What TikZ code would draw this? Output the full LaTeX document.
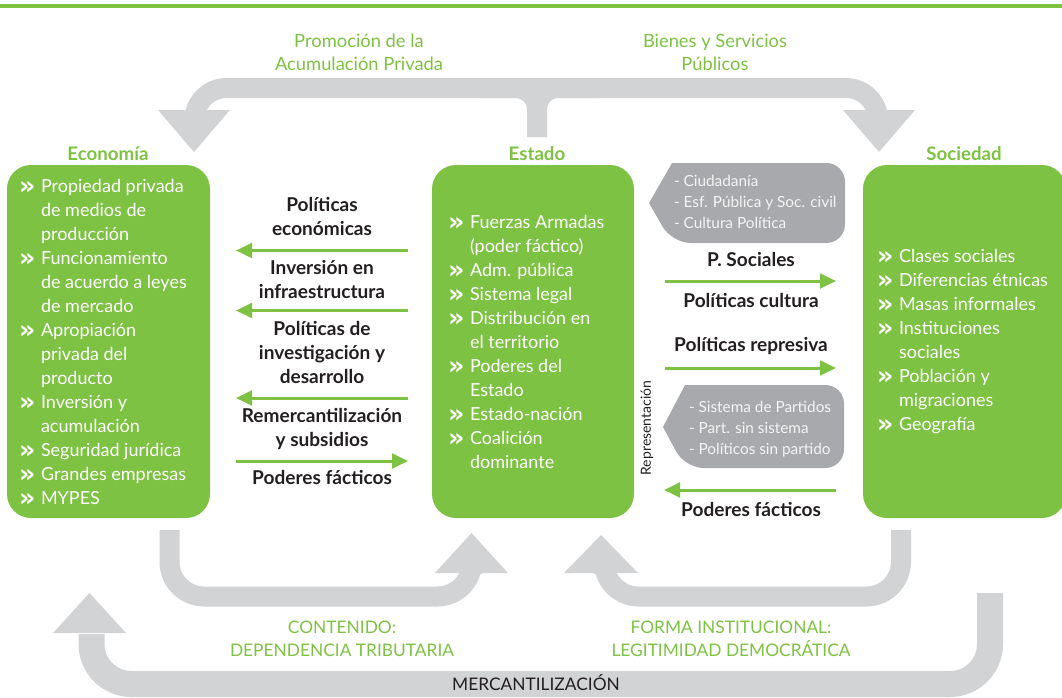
\documentclass[tikz,border=0pt]{standalone}
\usepackage{fontspec}
\setmainfont{Lato}
\newfontfamily\bulfont{DejaVu Sans}
\usetikzlibrary{arrows.meta}
\definecolor{grn}{HTML}{7DC242}
\definecolor{arrgray}{HTML}{D1D3D4}
\definecolor{callgray}{HTML}{A7A9AC}
\definecolor{ink}{HTML}{231F20}
\definecolor{calltext}{HTML}{F4F4F4}
\newcommand\bul{\makebox[16.5pt][l]{\raisebox{-1.6pt}{\bulfont\bfseries\fontsize{19}{18}\selectfont »}}}
\newcommand\ind{\hspace*{16.5pt}}
\newcommand\myBody{\fontsize{13.5}{18}\selectfont}
\newcommand\myLab{\fontsize{14.3}{18}\selectfont\bfseries}
\newcommand\myTitle{\fontsize{14}{16}\selectfont\bfseries}
\newcommand\myTop{\fontsize{13.75}{17.25}\selectfont}
\newcommand\myBot{\fontsize{13}{17.25}\selectfont}
\newcommand\myCall{\fontsize{11.5}{15.4}\selectfont}
\newcommand\myMerc{\fontsize{13}{14}\selectfont}
\newcommand\myRep{\fontsize{10.5}{12}\selectfont}
\begin{document}
\begin{tikzpicture}[x=0.75pt,y=-0.75pt,
  every node/.style={inner sep=0pt,outer sep=0pt},
  box/.style={fill=grn,rounded corners=18pt,minimum height=264.75pt},
  boxtext/.style={anchor=north west,align=left,text=white,font=\myBody},
  title/.style={anchor=base,text=grn,font=\myTitle},
  lab/.style={anchor=north,align=center,text=ink,font=\myLab},
  garrow/.style={draw=grn,line width=2.25pt,-{Triangle[length=12pt,width=11pt]}},
  band/.style={draw=arrgray,line width=15pt},
  bigband/.style={draw=arrgray,line width=19.5pt},
  head/.style={fill=arrgray},
  calltxt/.style={anchor=north west,align=left,text=calltext,font=\myCall},
  toplab/.style={anchor=north,align=center,text=grn,font=\myTop},
  botlab/.style={anchor=north,align=center,text=grn,font=\myBot}]
\useasboundingbox (0,0) rectangle (1062,697);
% top green rule
\fill[grn] (0,3.5) rectangle (1062,8.3);

% ---------- gray flow arrows ----------
% top
\draw[band,rounded corners=24pt] (194.5,112) -- (194.5,88) -- (878,88) -- (878,112);
\draw[band,rounded corners=16pt] (537,137) -- (537,88) -- (480,88);
\draw[band,rounded corners=16pt] (537,137) -- (537,88) -- (594,88);
\fill[head] (158,110) -- (230,110) -- (194,152) -- cycle;
\fill[head] (843,110) -- (915,110) -- (879,152) -- cycle;
% bottom left U
\draw[band,rounded corners=26pt] (169.5,530) -- (169.5,596.5) -- (472,596.5) -- (472,574);
\fill[head] (435,573) -- (508,573) -- (471.5,533) -- cycle;
% bottom right U
\draw[band,rounded corners=26pt] (901,530) -- (901,596.5) -- (604,596.5) -- (604,574);
\fill[head] (564,573) -- (638,573) -- (601,535) -- cycle;
% big bottom
\draw[bigband,rounded corners=30pt] (990,593) -- (990,684) -- (91.5,684) -- (91.5,634);
\fill[head] (53,633) -- (126,633) -- (89.5,593) -- cycle;

% ---------- boxes ----------
\node[box,minimum width=152.25pt] (eco) at (108.5,341.5) {};
\node[box,minimum width=151.5pt] (est) at (533,341.5) {};
\node[box,minimum width=152.25pt] (soc) at (964.5,341.5) {};

\node[title] (ecot) at (108,160) {Economía};
\node[title] (estt) at (537,160) {Estado};
\node[title] (soct) at (964,160) {Sociedad};

\node[boxtext] (ecotx) at (19,175.5) {\strut\bul Propiedad privada\\
\ind de medios de\\
\ind producción\\
\bul Funcionamiento\\
\ind de acuerdo a leyes\\
\ind de mercado\\
\bul Apropiación\\
\ind privada del\\
\ind producto\\
\bul Inversión y\\
\ind acumulación\\
\bul Seguridad jurídica\\
\bul Grandes empresas\\
\bul MYPES};

\node[boxtext] (esttx) at (448,211.5) {\strut\bul Fuerzas Armadas\\
\ind (poder fáctico)\\
\bul Adm. pública\\
\bul Sistema legal\\
\bul Distribución en\\
\ind el territorio\\
\bul Poderes del\\
\ind Estado\\
\bul Estado-nación\\
\bul Coalición\\
\ind dominante};

\node[boxtext] (soctx) at (877,245.5) {\strut\bul Clases sociales\\
\bul Diferencias étnicas\\
\bul Masas informales\\
\bul Instituciones\\
\ind sociales\\
\bul Población y\\
\ind migraciones\\
\bul Geografía};

% ---------- callouts ----------
\path[fill=callgray,rounded corners=14pt] (672,163) -- (845,163) -- (845,243) -- (672,243) [sharp corners] -- (649,203) -- cycle;
\node[calltxt] (c1) at (674,172.6) {\strut- Ciudadanía\\- Esf. Pública y Soc. civil\\- Cultura Política};
\path[fill=callgray,rounded corners=14pt] (685,385) -- (844,385) -- (844,468) -- (685,468) [sharp corners] -- (663,427) -- cycle;
\node[calltxt] (c2) at (689,398.6) {\strut- Sistema de Partidos\\- Part. sin sistema\\- Políticos sin partido};

\node[rotate=90,text=ink,font=\myRep] (rep) at (647,428) {Representación};

% ---------- left labels and arrows ----------
\node[lab] (l1) at (322,194.7) {\strut Políticas\\económicas};
\node[lab] (l2) at (322,257.2) {\strut Inversión en\\infraestructura};
\node[lab] (l3) at (322,318.9) {\strut Políticas de\\investigación y\\desarrollo};
\node[lab] (l4) at (322,405.5) {\strut Remercantilización\\y subsidios};
\node[lab] (l5) at (322,467.5) {\strut Poderes fácticos};
\coordinate (a1s) at (408,250.5); \coordinate (a1e) at (236,250.5);
\coordinate (a2s) at (408,310.5); \coordinate (a2e) at (236,310.5);
\coordinate (a3s) at (408,398);   \coordinate (a3e) at (236,398);
\coordinate (a4s) at (236,461);   \coordinate (a4e) at (408,461);
\draw[garrow] (a1s) -- (a1e);
\draw[garrow] (a2s) -- (a2e);
\draw[garrow] (a3s) -- (a3e);
\draw[garrow] (a4s) -- (a4e);

% ---------- right labels and arrows ----------
\node[lab] (r1) at (751,249.2) {\strut P. Sociales};
\node[lab] (r2) at (751,290.9) {\strut Políticas cultura};
\node[lab] (r3) at (751,334.2) {\strut Políticas represiva};
\node[lab] (r4) at (751,499.9) {\strut Poderes fácticos};
\coordinate (b1s) at (665,281); \coordinate (b1e) at (836,281);
\coordinate (b2s) at (665,368); \coordinate (b2e) at (836,368);
\coordinate (b3s) at (836,490); \coordinate (b3e) at (664,490);
\draw[garrow] (b1s) -- (b1e);
\draw[garrow] (b2s) -- (b2e);
\draw[garrow] (b3s) -- (b3e);

% ---------- flow labels ----------
\node[toplab] (t1) at (359,30.9) {\strut Promoción de la\\Acumulación Privada};
\node[toplab] (t2) at (715,30.9) {\strut Bienes y Servicios\\Públicos};
\node[botlab] (t3) at (342,616.9) {\strut CONTENIDO:\\DEPENDENCIA TRIBUTARIA};
\node[botlab] (t4) at (731,616.9) {\strut FORMA INSTITUCIONAL:\\LEGITIMIDAD DEMOCRÁTICA};
\node[anchor=base,text=ink,font=\myMerc] (merc) at (536,690) {MERCANTILIZACIÓN};
\end{tikzpicture}
\end{document}
